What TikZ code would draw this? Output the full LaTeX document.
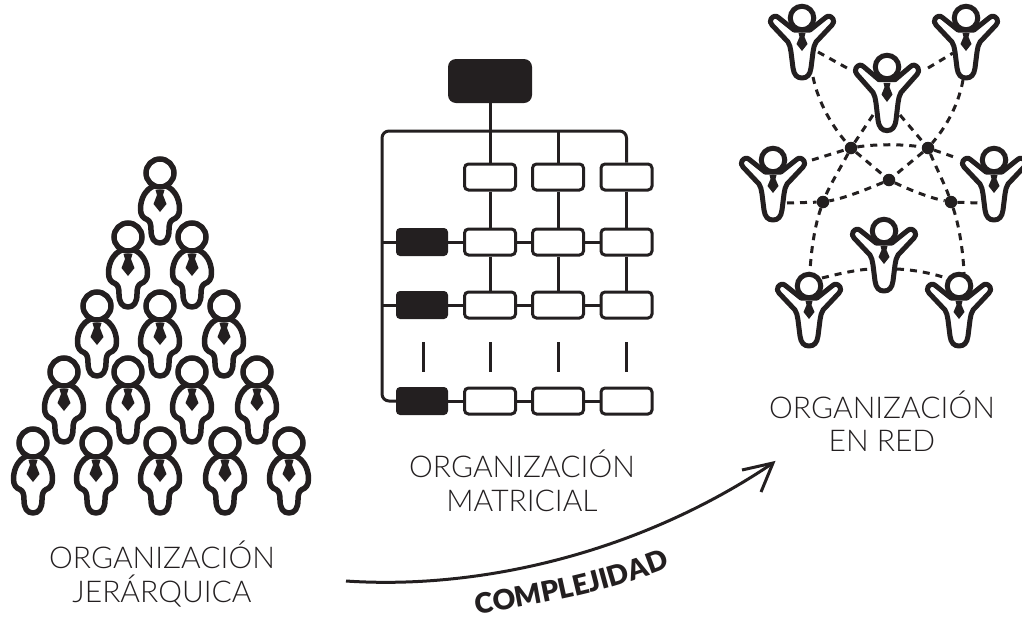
\documentclass[tikz,border=0pt]{standalone}
\usepackage{fontspec}
\setmainfont{Lato}[UprightFont={* Light},BoldFont={* Black}]
\usetikzlibrary{decorations.text}
\definecolor{ink}{HTML}{231F20}
\tikzset{
  x=1pt,y=-1pt,
  headc/.style={circle,draw=ink,line width=5.5pt,minimum size=28pt,inner sep=0pt},
  headu/.style={circle,draw=ink,line width=5pt,minimum size=23.5pt,inner sep=0pt},
  outl/.style={draw=ink,line width=5.5pt,line join=round,line cap=round},
  outu/.style={draw=ink,line width=5pt,line join=round,line cap=round},
  wbox/.style={rectangle,rounded corners=4pt,draw=ink,line width=3pt,fill=white,minimum width=51pt,minimum height=26pt,inner sep=0pt},
  bsmall/.style={rectangle,rounded corners=4pt,fill=ink,minimum width=52pt,minimum height=28pt,inner sep=0pt},
  btop/.style={rectangle,rounded corners=8pt,fill=ink,minimum width=84pt,minimum height=44pt,inner sep=0pt},
  wire/.style={draw=ink,line width=3pt},
  dotn/.style={circle,fill=ink,minimum size=12.5pt,inner sep=0pt},
  net/.style={draw=ink,line width=3pt,dash pattern=on 7pt off 6pt},
  lab/.style={text=ink,font=\fontsize{30}{33.5}\selectfont,align=center,inner sep=0pt},
  pawn/.pic={
    \node[headc] (-head) at (0,0) {};
    \path[outl] (-6,13) .. controls (-14,16) and (-19.5,25) .. (-19.5,36)
      .. controls (-19.5,42) and (-17,45) .. (-13,46.5)
      .. controls (-10,48) and (-9,51) .. (-9,57)
      .. controls (-9,65) and (-6,70) .. (0,70)
      .. controls (6,70) and (9,65) .. (9,57)
      .. controls (9,51) and (10,48) .. (13,46.5)
      .. controls (17,45) and (19.5,42) .. (19.5,36)
      .. controls (19.5,25) and (14,16) .. (6,13);
    \path[fill=ink] (-4.5,17) -- (4.5,17) -- (3,22) -- (6.5,31) -- (0,39) -- (-6.5,31) -- (-3,22) -- cycle;
  },
  joy/.pic={
    \node[headu] (-head) at (0,0) {};
    \path[outu] (-8,12) -- (-23,0) .. controls (-26,-3) and (-29,-2) .. (-31,1)
      .. controls (-32,3) and (-32,5) .. (-30,7)
      -- (-14,24) .. controls (-12,27) and (-12,29) .. (-11,34)
      -- (-9,50) .. controls (-8,57) and (-5,60) .. (0,60)
      .. controls (5,60) and (8,57) .. (9,50)
      -- (11,34) .. controls (12,29) and (12,27) .. (14,24)
      -- (30,7) .. controls (32,5) and (32,3) .. (31,1)
      .. controls (29,-2) and (26,-3) .. (23,0) -- (8,12) -- cycle;
    \path[fill=ink] (-3.5,15) -- (3.5,15) -- (2.5,19) -- (5.5,26) -- (0,33) -- (-5.5,26) -- (-2.5,19) -- cycle;
  },
}
\begin{document}
\begin{tikzpicture}
\useasboundingbox (0,0) rectangle (1022,619);
% pyramid
\foreach \n/\px/\py in {a/160/173,b/128/237,c/192/237,d/97/306,e/160/306,f/224/306,g/64/372,h/128/372,i/192/372,j/257/372,k/33/443,l/96/443,m/160/443,o/225/443,p/289/443}
  \pic (pw\n) at (\px,\py) {pawn};
% matrix
\node[btop] (top) at (490,81) {};
\foreach \r/\yy in {0/177,1/242,2/305,3/401}{
  \node[wbox] (c1r\r) at (490,\yy) {};
  \node[wbox] (c2r\r) at (558,\yy) {};
  \node[wbox] (c3r\r) at (626.5,\yy) {};
}
\foreach \r/\yy in {1/242,2/305,3/401}
  \node[bsmall] (l\r) at (422,\yy) {};
\coordinate (busL) at (382,131);
\coordinate (busM) at (558,131);
\coordinate (busR) at (626.5,131);
\draw[wire] (top.south) -- (c1r0.north);
\draw[wire] (busM) -- (c2r0.north);
\draw[wire,rounded corners=7pt] (c3r0.north) -- (busR) -- (busL) -- (382,401) -- (l3.west);
\draw[wire] (382,242) -- (l1.west);
\draw[wire] (382,305) -- (l2.west);
\foreach \r in {1,2,3}{
  \draw[wire] (l\r.east) -- (c1r\r.west);
  \draw[wire] (c1r\r.east) -- (c2r\r.west);
  \draw[wire] (c2r\r.east) -- (c3r\r.west);
}
\foreach \c in {1,2,3}{
  \draw[wire] (c\c r0.south) -- (c\c r1.north);
  \draw[wire] (c\c r1.south) -- (c\c r2.north);
}
\foreach \n/\xx in {t0/423,t1/490,t2/558,t3/626.5}{
  \coordinate (\n a) at (\xx,342);
  \coordinate (\n b) at (\xx,372);
  \draw[wire] (\n a) -- (\n b);
}
% network
\pic (A) at (802,18) {joy};
\pic (B) at (966,18) {joy};
\pic[yscale=1.06] (C) at (887,67) {joy};
\pic (D) at (773,160) {joy};
\pic (E) at (994,160) {joy};
\pic (F) at (884,231) {joy};
\pic (G) at (809,286) {joy};
\pic (H) at (959,286) {joy};
\node[dotn] (n1) at (851,148) {};
\node[dotn] (n2) at (928,148) {};
\node[dotn] (n3) at (889,180) {};
\node[dotn] (n4) at (823,202) {};
\node[dotn] (n5) at (951,202) {};
\coordinate (Abot) at (813,77);
\coordinate (Bbot) at (963,80);
\coordinate (Ar) at (818,52);
\coordinate (Cl) at (847,68);
\coordinate (Cr) at (928,68);
\coordinate (Bl) at (953,53);
\coordinate (Cbl) at (873,115);
\coordinate (Cbr) at (900,115);
\coordinate (Dr) at (812,160);
\coordinate (El) at (957,158);
\coordinate (Db) at (787,203);
\coordinate (Eb) at (978,203);
\coordinate (Gt) at (810,272);
\coordinate (Ht) at (964,273);
\coordinate (Gr) at (822,278);
\coordinate (Fl) at (870,269);
\coordinate (Fr) at (897,269);
\coordinate (Hl) at (943,277);
\path[net] (Ar) -- (Cl);
\path[net] (Cr) -- (Bl);
\path[net] (Abot) .. controls (819,105) and (833,127) .. (n1);
\path[net] (Bbot) .. controls (958,107) and (945,128) .. (n2);
\path[net] (Cbl) -- (n1);
\path[net] (Cbr) -- (n2);
\path[net] (n1) .. controls (875,144) and (903,144) .. (n2);
\path[net] (Dr) -- (n1);
\path[net] (n2) -- (El);
\path[net] (n1) -- (n3);
\path[net] (n2) -- (n3);
\path[net] (n1) .. controls (842,165) and (830,185) .. (n4);
\path[net] (n2) .. controls (935,165) and (945,185) .. (n5);
\path[net] (n3) .. controls (865,190) and (845,198) .. (n4);
\path[net] (n3) .. controls (910,190) and (930,198) .. (n5);
\path[net] (Db) -- (n4);
\path[net] (n5) -- (Eb);
\path[net] (n4) .. controls (815,225) and (811,250) .. (Gt);
\path[net] (n5) .. controls (959,225) and (963,250) .. (Ht);
\path[net] (Gr) .. controls (838,274) and (855,270) .. (Fl);
\path[net] (Fr) .. controls (915,270) and (930,273) .. (Hl);
% labels
\node[lab] (t1) at (162,574) {ORGANIZACIÓN\\JERÁRQUICA};
\node[lab] (t2) at (522,481) {ORGANIZACIÓN\\MATRICIAL};
\node[lab] (t3) at (882,421) {ORGANIZACIÓN\\EN RED};
% arrow
\coordinate (as) at (346,581);
\coordinate (ae) at (773,463);
\coordinate (h1) at (742,470);
\coordinate (h2) at (761,492);
\draw[draw=ink,line width=3pt] (as) .. controls (480,590) and (640,553) .. (ae);
\draw[draw=ink,line width=3pt,line join=miter] (h1) -- (ae) -- (h2);
\coordinate (cs) at (470,615);
\coordinate (ce) at (676,565);
\path[postaction={decorate,decoration={text along path,text align=center,
  text={|\fontsize{28}{28}\selectfont\bfseries\color{ink}|COMPLEJIDAD}}}]
  (cs) .. controls (540,605) and (610,592) .. (ce);
\end{tikzpicture}
\end{document}
